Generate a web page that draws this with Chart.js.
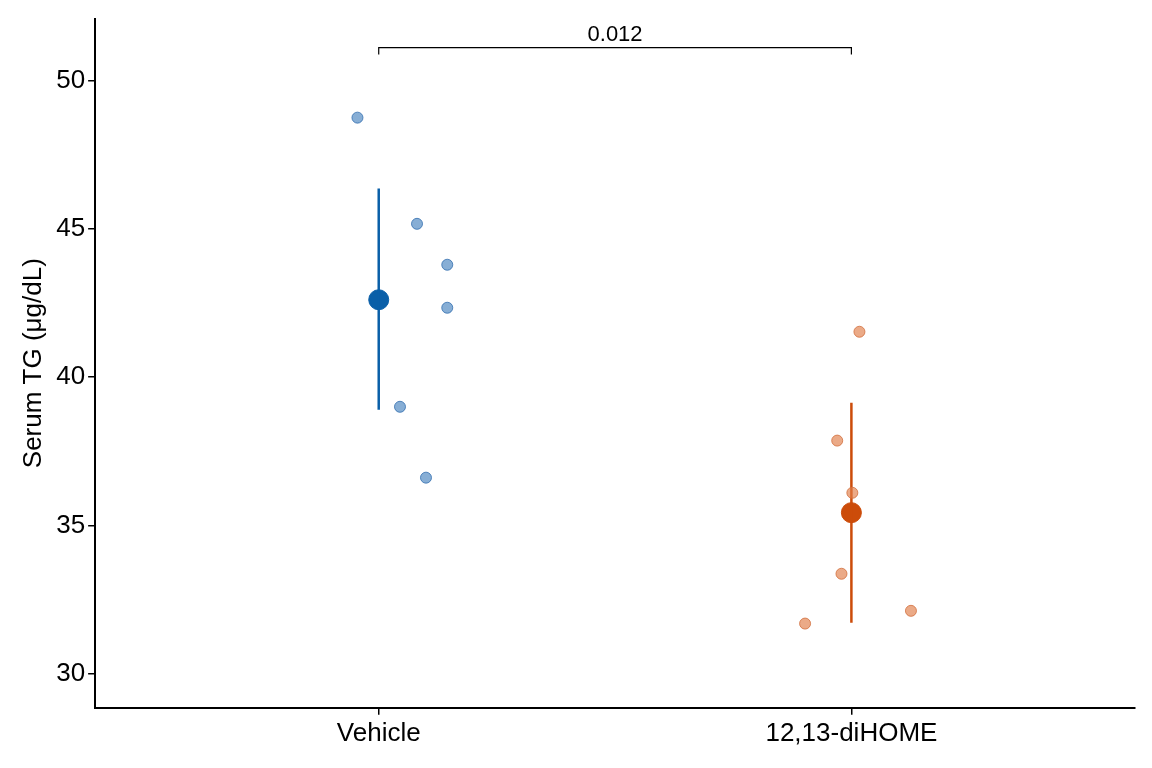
<!DOCTYPE html>
<html>
<head>
<meta charset="utf-8">
<script src="https://cdn.jsdelivr.net/npm/chart.js@4/dist/chart.umd.min.js"></script>
<style>
  body { margin: 0; background: #fff; }
  #wrap { width: 1152px; height: 768px; }
</style>
</head>
<body>
<div id="wrap"><canvas id="c"></canvas></div>
<script>
// Categorías y valores
const groups = ['Vehicle', '12,13-diHOME'];
const vehicleX = [0.955, 1.081, 1.145, 1.145, 1.045, 1.100];
const vehicleY = [48.75, 45.17, 43.79, 42.34, 39.00, 36.61];
const dihomeX = [2.017, 1.970, 2.002, 1.979, 1.902, 2.126];
const dihomeY = [41.53, 37.86, 36.10, 33.37, 31.69, 32.12];
const means = [42.61, 35.43];
const errLow = [38.90, 31.72];
const errHigh = [46.36, 39.14];
const yTicks = [30, 35, 40, 45, 50];
const pLabel = '0.012';
const bracketY = 51.11;
const bracketTick = 50.88;

const blue = '#0a5fa8';
const orange = '#cc4c0a';

const toPts = (xs, ys) => xs.map((x, i) => ({ x: x, y: ys[i] }));

// Plugin para el corchete de significancia
const bracketPlugin = {
    id: 'bracket',
    afterDatasetsDraw(chart) {
        const { ctx, scales: { x, y } } = chart;
        const x1 = x.getPixelForValue(1), x2 = x.getPixelForValue(2);
        const yb = y.getPixelForValue(bracketY), yt = y.getPixelForValue(bracketTick);
        ctx.save();
        ctx.strokeStyle = '#000';
        ctx.lineWidth = 1.2;
        ctx.beginPath();
        ctx.moveTo(x1, yt); ctx.lineTo(x1, yb); ctx.lineTo(x2, yb); ctx.lineTo(x2, yt);
        ctx.stroke();
        ctx.fillStyle = '#000';
        ctx.font = '22px "Liberation Sans", Arial, sans-serif';
        ctx.textAlign = 'center';
        ctx.textBaseline = 'bottom';
        ctx.fillText(pLabel, (x1 + x2) / 2, yb - 2);
        ctx.restore();
    }
};

new Chart(document.getElementById('c'), {
    type: 'scatter',
    data: {
        datasets: [
            { data: toPts(vehicleX, vehicleY), backgroundColor: 'rgba(70,130,190,0.65)', borderColor: 'rgba(50,110,175,0.8)', borderWidth: 1, pointRadius: 5.5 },
            { data: toPts(dihomeX, dihomeY), backgroundColor: 'rgba(225,125,70,0.65)', borderColor: 'rgba(210,110,60,0.8)', borderWidth: 1, pointRadius: 5.5 },
            { data: [{ x: 1, y: errLow[0] }, { x: 1, y: errHigh[0] }], showLine: true, borderColor: blue, borderWidth: 2.5, pointRadius: 0 },
            { data: [{ x: 2, y: errLow[1] }, { x: 2, y: errHigh[1] }], showLine: true, borderColor: orange, borderWidth: 2.5, pointRadius: 0 },
            { data: [{ x: 1, y: means[0] }], backgroundColor: blue, borderColor: blue, pointRadius: 10 },
            { data: [{ x: 2, y: means[1] }], backgroundColor: orange, borderColor: orange, pointRadius: 10 }
        ]
    },
    options: {
        responsive: true,
        maintainAspectRatio: false,
        animation: false,
        layout: { padding: { top: 18, right: 17, left: 14, bottom: 16 } },
        plugins: { legend: { display: false }, tooltip: { enabled: false } },
        scales: {
            x: {
                type: 'linear', min: 0.4, max: 2.6,
                afterBuildTicks: ax => { ax.ticks = [{ value: 1 }, { value: 2 }]; },
                ticks: { color: '#000', font: { size: 26, family: '"Liberation Sans", Arial' }, callback: v => groups[v - 1] },
                grid: { drawOnChartArea: false, color: '#000', tickLength: 7, lineWidth: 1.5 },
                border: { color: '#000', width: 2 }
            },
            y: {
                min: 28.85, max: 52.09,
                afterBuildTicks: ax => { ax.ticks = yTicks.map(v => ({ value: v })); },
                ticks: { color: '#000', font: { size: 26, family: '"Liberation Sans", Arial' } },
                grid: { drawOnChartArea: false, color: '#000', tickLength: 7, lineWidth: 1.5 },
                border: { color: '#000', width: 2 },
                title: { display: true, text: 'Serum TG (μg/dL)', color: '#000', font: { size: 26, family: '"Liberation Sans", Arial' } }
            }
        }
    },
    plugins: [bracketPlugin]
});
</script>
</body>
</html>
